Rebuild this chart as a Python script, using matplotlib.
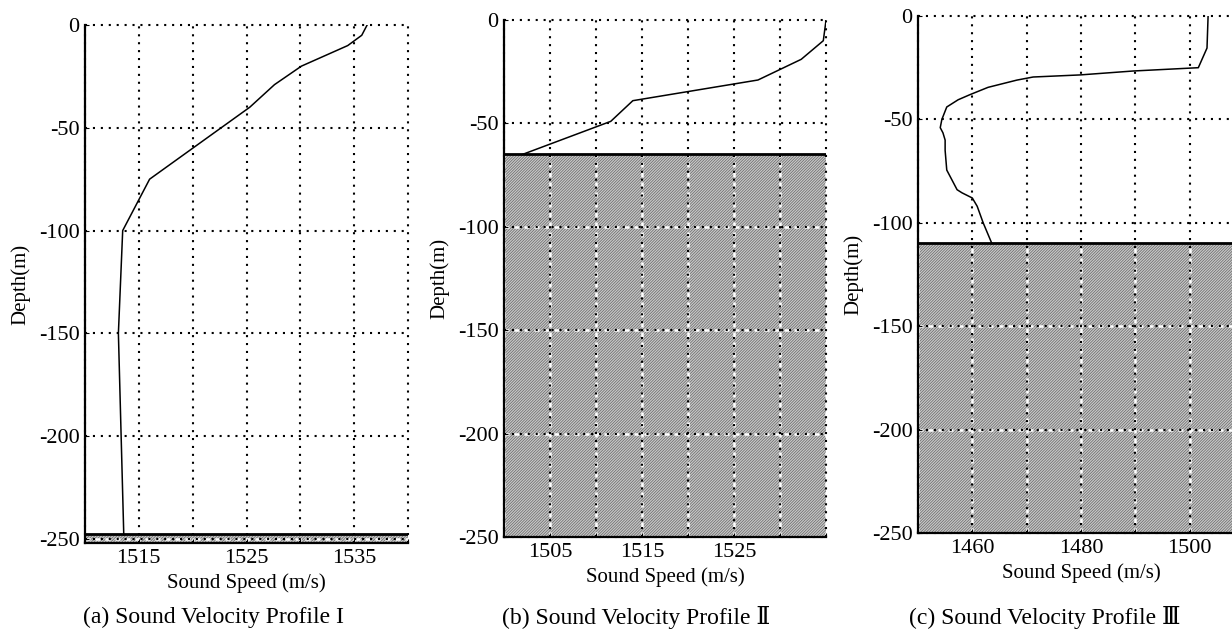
import numpy as np
import matplotlib.pyplot as plt
from matplotlib.patches import Polygon

plt.rcParams['font.family'] = ['Liberation Serif', 'DejaVu Serif', 'Noto Sans CJK SC']
plt.rcParams['axes.unicode_minus'] = False
plt.rcParams['hatch.linewidth'] = 0.5

# profile I
speed1 = [1536.2, 1535.7, 1534.4, 1530.1, 1527.6, 1525.3, 1516.0, 1513.5, 1513.1, 1513.6]
depth1 = [0, -5, -10, -20, -29, -40, -75, -100, -150, -248]
# profile II
speed2 = [1535.0, 1534.7, 1532.3, 1527.6, 1514.0, 1511.6, 1502.0]
depth2 = [0, -10, -19, -29, -39, -49, -65]
# profile III
speed3 = [1503.4, 1503.2, 1501.6, 1489.6, 1479.8, 1471.2, 1468.2, 1462.9, 1459.6, 1457.4,
          1455.3, 1454.4, 1454.1, 1454.6, 1455.0, 1455.0, 1455.3, 1457.2, 1458.1, 1460.0,
          1460.9, 1462.0, 1463.6]
depth3 = [0, -15.5, -25, -26.6, -28.5, -29.5, -31, -34.5, -38, -40.5,
          -44, -50, -54, -56.5, -60, -65, -74.5, -84, -85.5, -88,
          -92, -100, -110]

seabed = [-247.5, -65, -110]
xlims = [(1510, 1540), (1500, 1535), (1450, 1510)]
xgrid = [np.arange(1510, 1541, 5), np.arange(1500, 1536, 5), np.arange(1450, 1511, 10)]
xlabeled = [[1515, 1525, 1535], [1505, 1515, 1525], [1460, 1480, 1500]]
ybottom = [-252, -250, -250]
yticks = [0, -50, -100, -150, -200, -250]
captions = ['(a) Sound Velocity Profile I', '(b) Sound Velocity Profile Ⅱ',
            '(c) Sound Velocity Profile Ⅲ']

positions = [[0.0690, 0.1381, 0.2622, 0.8222],
             [0.4091, 0.1476, 0.2614, 0.8206],
             [0.7451, 0.1540, 0.2646, 0.8206]]
caption_x = [0.173, 0.516, 0.848]

fig = plt.figure(figsize=(12.32, 6.30), dpi=100)
profiles = [(speed1, depth1), (speed2, depth2), (speed3, depth3)]

for i in range(3):
    ax = fig.add_axes(positions[i])
    sp, dp = profiles[i]
    x0, x1 = xlims[i]
    ax.set_xlim(x0, x1)
    ax.set_ylim(ybottom[i], 0)

    # sea floor
    poly = Polygon([[x0, seabed[i]], [x1, seabed[i]], [x1, ybottom[i]], [x0, ybottom[i]]],
                   closed=True, facecolor='#c8c8c8', edgecolor='#666666',
                   hatch='/' * 12, linewidth=0, zorder=1)
    ax.add_patch(poly)
    for gx in xgrid[i]:
        ax.axvline(gx, color='white', lw=1.8, ls=(0, (2, 2)), clip_path=poly, zorder=1.5)
    for gy in yticks:
        ax.axhline(gy, color='white', lw=1.8, ls=(0, (2, 2)), clip_path=poly, zorder=1.5)
    ax.plot([x0, x1], [seabed[i], seabed[i]], color='black', lw=2.0, zorder=3)

    ax.plot(sp, dp, color='black', lw=1.1, zorder=3)

    ax.set_xticks(xgrid[i])
    ax.set_xticklabels([str(v) if v in xlabeled[i] else '' for v in xgrid[i]])
    ax.set_yticks(yticks)
    ax.set_yticklabels([str(v) for v in yticks])
    ax.grid(True, color='black', lw=1.5, ls=(0, (1, 2.8)))
    for gl in ax.get_xgridlines() + ax.get_ygridlines():
        gl.set_clip_on(False)
    ax.set_axisbelow(False)
    ax.tick_params(direction='in', length=3, width=0.8, labelsize=16, pad=4)

    ax.spines['top'].set_visible(False)
    ax.spines['right'].set_visible(False)
    ax.spines['left'].set_linewidth(1.6)
    ax.spines['bottom'].set_linewidth(1.6)

    ax.set_xlabel('Sound Speed (m/s)', fontsize=15, labelpad=4)
    ax.set_ylabel('Depth(m)', fontsize=15, labelpad=6)

    fig.text(caption_x[i], 0.02, captions[i], fontsize=17, ha='center', va='center')

fig.savefig('out.png', dpi=100)
